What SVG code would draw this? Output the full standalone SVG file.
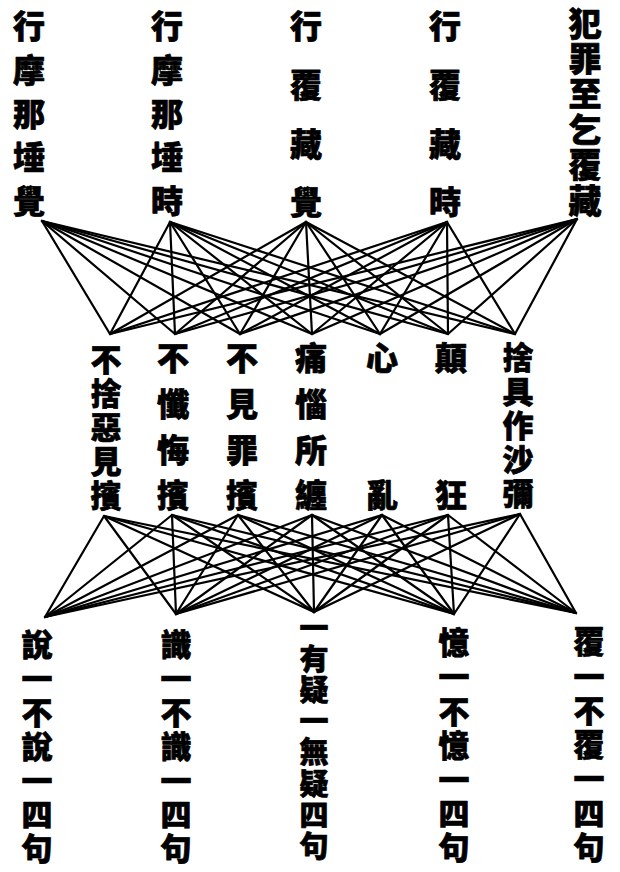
<svg xmlns="http://www.w3.org/2000/svg" width="620" height="872" viewBox="0 0 620 872">
<style>
.t{font-family:"Noto Sans CJK TC","Noto Sans CJK SC","Noto Sans CJK JP",sans-serif;font-weight:900;fill:#000;stroke:#000;stroke-width:0.7;stroke-linejoin:round;writing-mode:vertical-rl;text-anchor:start}
#connectors line{stroke:#000;stroke-width:2.2;stroke-linecap:round}
</style>
<rect width="620" height="872" fill="#fff"/>
<g id="connectors">
<g id="upper">
<line x1="42" y1="221" x2="110" y2="334"/><line x1="42" y1="221" x2="175" y2="334"/><line x1="42" y1="221" x2="240" y2="334"/><line x1="42" y1="221" x2="312" y2="334"/><line x1="42" y1="221" x2="380" y2="334"/><line x1="42" y1="221" x2="448" y2="334"/><line x1="42" y1="221" x2="515" y2="334"/>
<line x1="170" y1="222" x2="110" y2="334"/><line x1="170" y1="222" x2="175" y2="334"/><line x1="170" y1="222" x2="240" y2="334"/><line x1="170" y1="222" x2="312" y2="334"/><line x1="170" y1="222" x2="380" y2="334"/><line x1="170" y1="222" x2="448" y2="334"/><line x1="170" y1="222" x2="515" y2="334"/>
<line x1="306" y1="222" x2="110" y2="334"/><line x1="306" y1="222" x2="175" y2="334"/><line x1="306" y1="222" x2="240" y2="334"/><line x1="306" y1="222" x2="312" y2="334"/><line x1="306" y1="222" x2="380" y2="334"/><line x1="306" y1="222" x2="448" y2="334"/><line x1="306" y1="222" x2="515" y2="334"/>
<line x1="447" y1="222" x2="110" y2="334"/><line x1="447" y1="222" x2="175" y2="334"/><line x1="447" y1="222" x2="240" y2="334"/><line x1="447" y1="222" x2="312" y2="334"/><line x1="447" y1="222" x2="380" y2="334"/><line x1="447" y1="222" x2="448" y2="334"/><line x1="447" y1="222" x2="515" y2="334"/>
<line x1="577" y1="219" x2="110" y2="334"/><line x1="577" y1="219" x2="175" y2="334"/><line x1="577" y1="219" x2="240" y2="334"/><line x1="577" y1="219" x2="312" y2="334"/><line x1="577" y1="219" x2="380" y2="334"/><line x1="577" y1="219" x2="448" y2="334"/><line x1="577" y1="219" x2="515" y2="334"/>
</g>
<g id="lower">
<line x1="104" y1="516" x2="45" y2="617"/><line x1="104" y1="516" x2="176" y2="614"/><line x1="104" y1="516" x2="314" y2="612"/><line x1="104" y1="516" x2="454" y2="614"/><line x1="104" y1="516" x2="576" y2="613"/>
<line x1="172" y1="515" x2="45" y2="617"/><line x1="172" y1="515" x2="176" y2="614"/><line x1="172" y1="515" x2="314" y2="612"/><line x1="172" y1="515" x2="454" y2="614"/><line x1="172" y1="515" x2="576" y2="613"/>
<line x1="238" y1="515" x2="45" y2="617"/><line x1="238" y1="515" x2="176" y2="614"/><line x1="238" y1="515" x2="314" y2="612"/><line x1="238" y1="515" x2="454" y2="614"/><line x1="238" y1="515" x2="576" y2="613"/>
<line x1="312" y1="515" x2="45" y2="617"/><line x1="312" y1="515" x2="176" y2="614"/><line x1="312" y1="515" x2="314" y2="612"/><line x1="312" y1="515" x2="454" y2="614"/><line x1="312" y1="515" x2="576" y2="613"/>
<line x1="382" y1="515" x2="45" y2="617"/><line x1="382" y1="515" x2="176" y2="614"/><line x1="382" y1="515" x2="314" y2="612"/><line x1="382" y1="515" x2="454" y2="614"/><line x1="382" y1="515" x2="576" y2="613"/>
<line x1="448" y1="515" x2="45" y2="617"/><line x1="448" y1="515" x2="176" y2="614"/><line x1="448" y1="515" x2="314" y2="612"/><line x1="448" y1="515" x2="454" y2="614"/><line x1="448" y1="515" x2="576" y2="613"/>
<line x1="520" y1="514" x2="45" y2="617"/><line x1="520" y1="514" x2="176" y2="614"/><line x1="520" y1="514" x2="314" y2="612"/><line x1="520" y1="514" x2="454" y2="614"/><line x1="520" y1="514" x2="576" y2="613"/>
</g>
</g>
<g id="top1"><text class="t" x="29" y="10" font-size="32" letter-spacing="11.75">行摩那埵覺</text></g>
<g id="top2"><text class="t" x="167" y="10" font-size="32" letter-spacing="11.75">行摩那埵時</text></g>
<g id="top3"><text class="t" x="306" y="10" font-size="32" letter-spacing="26.7">行覆藏覺</text></g>
<g id="top4"><text class="t" x="445" y="10" font-size="32" letter-spacing="26.7">行覆藏時</text></g>
<g id="top5"><text class="t" x="585" y="6.5" font-size="33" letter-spacing="2.4">犯罪至乞覆藏</text></g>
<g id="mid1"><text class="t" x="106" y="343.5" font-size="31" letter-spacing="3">不捨惡見擯</text></g>
<g id="mid2"><text class="t" x="173" y="342" font-size="32" letter-spacing="13.7">不懺悔擯</text></g>
<g id="mid3"><text class="t" x="242" y="342" font-size="32" letter-spacing="13.7">不見罪擯</text></g>
<g id="mid4"><text class="t" x="311" y="342" font-size="32" letter-spacing="13.7">痛惱所纏</text></g>
<g id="mid5"><text class="t" x="382" y="342" font-size="32" letter-spacing="105">心亂</text></g>
<g id="mid6"><text class="t" x="451" y="342" font-size="32" letter-spacing="105">顛狂</text></g>
<g id="mid7"><text class="t" x="518" y="341.5" font-size="31" letter-spacing="3">捨具作沙彌</text></g>
<g id="bot1"><text class="t" x="37" y="628.5" font-size="31" letter-spacing="3">說一不說一四句</text></g>
<g id="bot2"><text class="t" x="176" y="628.5" font-size="31" letter-spacing="3">識一不識一四句</text></g>
<g id="bot3"><text class="t" x="314" y="613.5" font-size="29" letter-spacing="2.1">一有疑一無疑四句</text></g>
<g id="bot4"><text class="t" x="454" y="627" font-size="31" letter-spacing="3.2">憶一不憶一四句</text></g>
<g id="bot5"><text class="t" x="589" y="626" font-size="31" letter-spacing="3.3">覆一不覆一四句</text></g>
</svg>
